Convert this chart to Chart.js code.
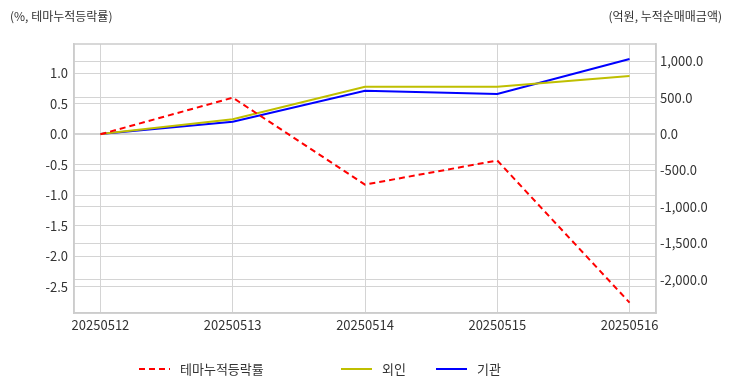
<!DOCTYPE html>
<html>
<head>
<meta charset="utf-8">
<script src="https://cdn.jsdelivr.net/npm/chart.js@4"></script>
<style>
  html, body { margin: 0; padding: 0; background: #fff; }
  #wrap { width: 732px; height: 392px; position: relative; }
</style>
</head>
<body>
<div id="wrap"><canvas id="chart" width="732" height="392"></canvas></div>
<script>
const dates = ["20250512", "20250513", "20250514", "20250515", "20250516"];
const themeRate = [0.0, 0.60, -0.825, -0.43, -2.76];
const foreignNet = [0, 202, 650, 650, 797];
const instNet = [0, 169, 595, 549, 1030];
const leftTicks = [1.0, 0.5, 0.0, -0.5, -1.0, -1.5, -2.0, -2.5];
const rightTicks = [1000, 500, 0, -500, -1000, -1500, -2000];
const leftTitle = "(%, 테마누적등락률)";
const rightTitle = "(억원, 누적순매매금액)";

const FONT = "'Noto Sans CJK KR', 'Noto Sans', sans-serif";
const TXT = "#333";
const GRID = "#d4d4d4";

const toXY = (arr) => arr.map((v, i) => ({ x: i, y: v }));

// frame round the plot, titles above the axes and a legend row at the bottom
const extras = {
  id: "extras",
  beforeDatasetsDraw(chart) {
    const a = chart.chartArea;
    const ctx = chart.ctx;
    ctx.save();
    ctx.strokeStyle = "#cccccc";
    ctx.lineWidth = 1.5;
    ctx.strokeRect(a.left, a.top, a.right - a.left, a.bottom - a.top);
    ctx.restore();
  },
  afterDraw(chart) {
    const ctx = chart.ctx;
    ctx.save();
    ctx.font = "12px " + FONT;
    ctx.fillStyle = TXT;
    ctx.textBaseline = "middle";
    ctx.textAlign = "left";
    ctx.fillText(leftTitle, 10, 16);
    ctx.textAlign = "right";
    ctx.fillText(rightTitle, 722, 16);

    const items = [
      { x: 139, ds: chart.data.datasets[0] },
      { x: 341, ds: chart.data.datasets[1] },
      { x: 436, ds: chart.data.datasets[2] }
    ];
    ctx.font = "13px " + FONT;
    ctx.textAlign = "left";
    items.forEach(it => {
      ctx.beginPath();
      ctx.strokeStyle = it.ds.borderColor;
      ctx.lineWidth = 2;
      ctx.setLineDash(it.ds.borderDash || []);
      ctx.moveTo(it.x, 369);
      ctx.lineTo(it.x + 31, 369);
      ctx.stroke();
      ctx.setLineDash([]);
      ctx.fillStyle = TXT;
      ctx.fillText(it.ds.label, it.x + 41, 369);
    });
    ctx.restore();
  }
};

new Chart(document.getElementById("chart"), {
  type: "line",
  data: {
    datasets: [
      {
        label: "테마누적등락률",
        data: toXY(themeRate),
        yAxisID: "y",
        borderColor: "#ff0000",
        borderWidth: 2,
        borderDash: [6, 4],
        pointRadius: 0,
        fill: false
      },
      {
        label: "외인",
        data: toXY(foreignNet),
        yAxisID: "y1",
        borderColor: "#bfbf00",
        borderWidth: 2,
        pointRadius: 0,
        fill: false
      },
      {
        label: "기관",
        data: toXY(instNet),
        yAxisID: "y1",
        borderColor: "#0000ff",
        borderWidth: 2,
        pointRadius: 0,
        fill: false
      }
    ]
  },
  options: {
    responsive: false,
    animation: false,
    layout: { padding: { top: 44, left: 0, right: 0, bottom: 0 } },
    plugins: {
      legend: { display: false },
      tooltip: { enabled: false }
    },
    scales: {
      x: {
        type: "linear",
        min: -0.2,
        max: 4.2,
        afterBuildTicks: (s) => { s.ticks = dates.map((d, i) => ({ value: i })); },
        afterFit: (s) => { s.height = 79; },
        ticks: {
          color: TXT,
          font: { family: FONT, size: 13 },
          padding: 4,
          maxRotation: 0,
          callback: (v) => dates[v]
        },
        grid: { color: GRID, drawTicks: false },
        border: { color: "#cccccc", width: 1.5 }
      },
      y: {
        position: "left",
        min: -2.93,
        max: 1.48,
        afterBuildTicks: (s) => { s.ticks = leftTicks.map(v => ({ value: v })); },
        afterFit: (s) => { s.width = 74; },
        ticks: {
          color: TXT,
          font: { family: FONT, size: 13 },
          padding: 6,
          callback: (v) => v.toFixed(1)
        },
        grid: { color: GRID, drawTicks: false },
        border: { color: "#cccccc", width: 1.5 }
      },
      y1: {
        position: "right",
        min: -2459,
        max: 1236,
        afterBuildTicks: (s) => { s.ticks = rightTicks.map(v => ({ value: v })); },
        afterFit: (s) => { s.width = 76; },
        ticks: {
          color: TXT,
          font: { family: FONT, size: 13 },
          padding: 4,
          callback: (v) => v.toLocaleString("en-US", { minimumFractionDigits: 1, maximumFractionDigits: 1 })
        },
        grid: { color: GRID, drawTicks: false },
        border: { color: "#cccccc", width: 1.5 }
      }
    }
  },
  plugins: [extras]
});
</script>
</body>
</html>
